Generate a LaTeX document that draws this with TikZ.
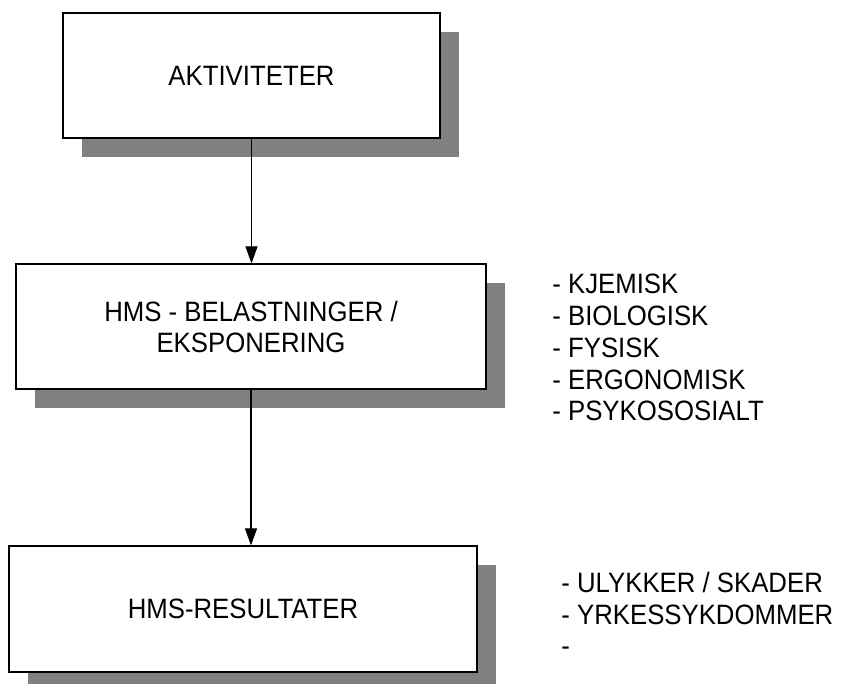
\documentclass[tikz,border=0pt]{standalone}
\usepackage{fontspec}
\setmainfont[FakeStretch=0.92]{Liberation Sans}
\usetikzlibrary{arrows.meta,shadows}
\definecolor{shadowgray}{HTML}{808080}
\tikzset{
  hmsbox/.style={draw=black,line width=0.6pt,fill=white,rectangle,
    align=center,inner sep=0pt,
    drop shadow={shadow xshift=9.5pt,shadow yshift=-9.5pt,
      fill=shadowgray,opacity=1}},
  liste/.style={anchor=base west,align=left,inner sep=0pt},
  pil/.style={-{Triangle[length=8.5pt,width=6pt]},line width=0.6pt}
}
\begin{document}
\begin{tikzpicture}[x=0.5pt,y=-0.5pt,font=\fontsize{14}{15.9}\selectfont]
  \useasboundingbox (0,0) rectangle (843,684);
  \begin{scope}
    % boksene
    \node[hmsbox,minimum width=188.5pt,minimum height=62.5pt] (akt) at (251.5,75.5) {AKTIVITETER};
    \node[hmsbox,minimum width=235pt,minimum height=62.5pt] (bel) at (251,326.5)
      {HMS - BELASTNINGER /\\[-0.4pt]EKSPONERING};
    \node[hmsbox,minimum width=234pt,minimum height=63pt] (res) at (243,609) {HMS-RESULTATER};

    \draw[pil] (akt.south) -- (akt.south |- bel.north);
    \draw[pil] (bel.south) -- (bel.south |- res.north);

    % listene (base = siste linje)
    \node[liste] (belliste) at (552,421)
      {- KJEMISK\\- BIOLOGISK\\- FYSISK\\- ERGONOMISK\\- PSYKOSOSIALT};
    \node[liste] (resliste) at (561,656)
      {- ULYKKER / SKADER\\- YRKESSYKDOMMER\\-};
  \end{scope}
\end{tikzpicture}
\end{document}
